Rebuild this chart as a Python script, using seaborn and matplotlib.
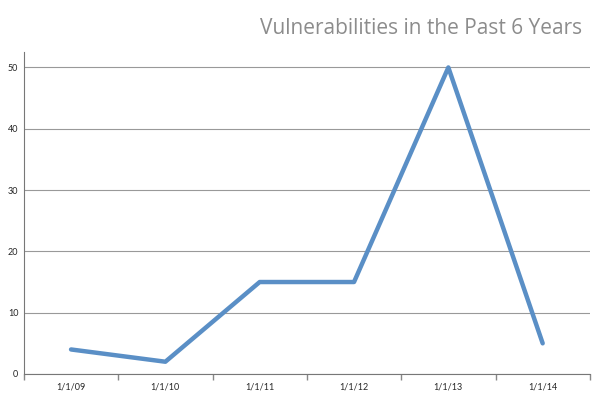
import matplotlib

matplotlib.use("Agg")
import matplotlib.pyplot as plt
import numpy as np
import seaborn as sns

sns.set_theme(style="white")
plt.rcParams["font.family"] = ["Lato", "DejaVu Sans"]

dates = ["1/1/09", "1/1/10", "1/1/11", "1/1/12", "1/1/13", "1/1/14"]
vulns = [4, 2, 15, 15, 50, 5]

fig = plt.figure(figsize=(5.97, 4.09), dpi=100)
ax = fig.add_axes([0.040, 0.0856, 0.948, 0.787])

x = np.arange(len(dates))
sns.lineplot(x=x, y=vulns, ax=ax, color="#5a8fc6", linewidth=3.2)

ax.set_xlim(-0.5, len(dates) - 0.5)
ax.set_ylim(0, 52.5)
ax.set_yticks([0, 10, 20, 30, 40, 50])
ax.set_xticks(x)
ax.set_xticklabels(dates)
ax.set_xticks(np.arange(len(dates) + 1) - 0.5, minor=True)
ax.tick_params(axis="x", which="major", length=0, labelsize=6.5, pad=6)
ax.tick_params(axis="x", which="minor", length=4, color="#888888", bottom=True)
ax.tick_params(axis="y", length=0, labelsize=6.5, pad=4)
ax.yaxis.grid(True, color="#999999", linewidth=0.8)
ax.set_axisbelow(True)
for s in ["top", "right"]:
    ax.spines[s].set_visible(False)
for s in ["left", "bottom"]:
    ax.spines[s].set_color("#777777")
    ax.spines[s].set_linewidth(0.8)

fig.text(0.975, 0.93, "Vulnerabilities in the Past 6 Years", ha="right", va="center",
         fontsize=15, color="#8c8c8c", family=["Open Sans", "DejaVu Sans"],
         fontweight="normal")

fig.savefig("out.png", dpi=100)
